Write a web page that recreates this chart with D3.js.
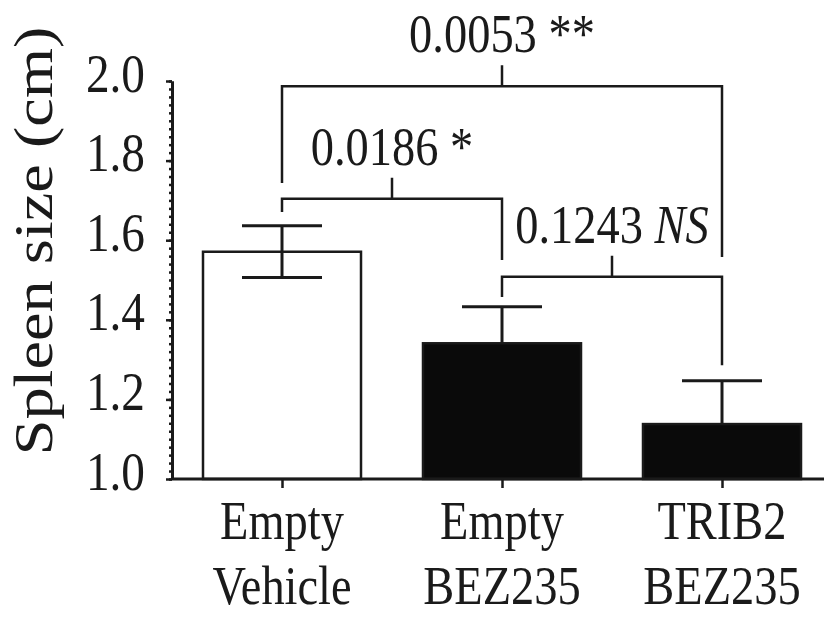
<!DOCTYPE html>
<html>
<head>
<meta charset="utf-8">
<script src="https://cdn.jsdelivr.net/npm/d3@7"></script>
<style>
  body { margin: 0; background: #fff; }
  svg { display: block; }
  text { font-family: "Liberation Serif", "Times New Roman", serif; fill: #1a1a1a; }
</style>
</head>
<body>
<svg width="824" height="617"></svg>
<script>
// data
var groups = ["Empty Vehicle", "Empty BEZ235", "TRIB2 BEZ235"];
var groupLines = [["Empty", "Vehicle"], ["Empty", "BEZ235"], ["TRIB2", "BEZ235"]];
var means = [1.571, 1.341, 1.138];
var sems = [0.065, 0.092, 0.109];
var yTicks = [1.0, 1.2, 1.4, 1.6, 1.8, 2.0];
var yMinorTicks = d3.range(0, 51).map(i => 1 + i * 0.02);

// comparisons: which bars, p value, marker
var compPairs = [[0, 2], [0, 1], [1, 2]];
var compP = ["0.0053", "0.0186", "0.1243"];
var compMark = ["**", "*", "NS"];
// bracket heights (data units) and leg ends
var compY = [1.987, 1.704, 1.508];
var compLegs = [[1.744, 1.558], [1.671, 1.550], [1.457, 1.286]];

var svg = d3.select("svg");
const g = svg.append("g");

const plotLeft = 172, plotBottom = 479, plotTop = 81;
var x = d3.scalePoint().domain(groups).range([plotLeft, 832]).padding(0.5);
var y = d3.scaleLinear().domain([1, 2]).range([plotBottom, plotTop]);
var barW = 158;
var sx = 0.86; // glyphs in the figure are a bit narrow

// bars
g.selectAll("rect.bar")
  .data(groups)
  .enter()
  .append("rect")
    .attr("class", "bar")
    .attr("x", d => x(d) - barW / 2)
    .attr("y", (d, i) => y(means[i]))
    .attr("width", barW)
    .attr("height", (d, i) => y(1) - y(means[i]))
    .style("fill", (d, i) => i == 0 ? "white" : "#0a0a0a")
    .style("stroke", "#1a1a1a")
    .style("stroke-width", 2.5);

// error bars (the filled bars hide their lower half)
var eb = g.selectAll("g.err").data(groups).enter().append("g").attr("class", "err")
  .style("stroke", "#1a1a1a").style("stroke-width", 3);
eb.append("line")
  .attr("x1", d => x(d)).attr("x2", d => x(d))
  .attr("y1", (d, i) => y(means[i] + sems[i]))
  .attr("y2", (d, i) => i == 0 ? y(means[i] - sems[i]) : y(means[i]));
eb.append("line")
  .attr("x1", d => x(d) - 40).attr("x2", d => x(d) + 40)
  .attr("y1", (d, i) => y(means[i] + sems[i]))
  .attr("y2", (d, i) => y(means[i] + sems[i]));
eb.filter((d, i) => i == 0).append("line")
  .attr("x1", d => x(d) - 40).attr("x2", d => x(d) + 40)
  .attr("y1", d => y(means[0] - sems[0]))
  .attr("y2", d => y(means[0] - sems[0]));

// y axis: minor then major ticks
var yMinor = g.append("g").attr("transform", "translate(" + plotLeft + ",0)")
  .call(d3.axisLeft(y).tickValues(yMinorTicks).tickSize(3).tickSizeOuter(0).tickFormat(""));
var yMajor = g.append("g").attr("transform", "translate(" + plotLeft + ",0)")
  .call(d3.axisLeft(y).tickValues(yTicks).tickSize(6).tickSizeOuter(0).tickFormat(d3.format(".1f")));
[yMinor, yMajor].forEach(a => {
  a.select(".domain").style("stroke", "#1a1a1a").style("stroke-width", 3);
  a.selectAll(".tick line").style("stroke", "#1a1a1a").style("stroke-width", 2.5);
});
yMajor.selectAll(".tick text")
  .attr("x", null).attr("dy", null)
  .attr("transform", "translate(-27,10) scale(" + sx + ",1)")
  .style("font-size", "55px")
  .style("fill", "#1a1a1a");

// x axis
var xAxis = g.append("g").attr("transform", "translate(0," + plotBottom + ")")
  .call(d3.axisBottom(x).tickSize(9).tickSizeOuter(0).tickFormat(""));
xAxis.select(".domain").attr("d", "M" + plotLeft + ",0H824").style("stroke", "#1a1a1a").style("stroke-width", 3);
xAxis.selectAll(".tick line").style("stroke", "#1a1a1a").style("stroke-width", 2.5);

groups.forEach((grp, i) => {
  groupLines[i].forEach((ln, j) => {
    g.append("text")
      .attr("transform", "translate(" + x(grp) + "," + (539 + j * 65) + ") scale(" + sx + ",1)")
      .attr("text-anchor", "middle")
      .style("font-size", "54px")
      .text(ln);
  });
});

// y title
g.append("text")
  .attr("transform", "translate(52,241) rotate(-90) scale(1.17,1)")
  .attr("text-anchor", "middle")
  .style("font-size", "55px")
  .text("Spleen size (cm)");

// significance brackets
compPairs.forEach((pr, i) => {
  var xa = x(groups[pr[0]]), xb = x(groups[pr[1]]), yb = y(compY[i]), xm = (xa + xb) / 2;
  g.append("path")
    .attr("d", "M" + xa + "," + y(compLegs[i][0]) + "V" + yb + "H" + xb + "V" + y(compLegs[i][1]) +
               "M" + xm + "," + yb + "v-21")
    .style("fill", "none")
    .style("stroke", "#1a1a1a")
    .style("stroke-width", 2.5);
  var t = g.append("text")
    .attr("transform", "translate(" + xm + "," + (yb - 34) + ") scale(" + sx + ",1)")
    .attr("text-anchor", "middle")
    .style("font-size", "54px");
  t.append("tspan").text(compP[i] + " ");
  t.append("tspan").style("font-style", compMark[i] == "NS" ? "italic" : "normal").text(compMark[i]);
});
</script>
</body>
</html>
